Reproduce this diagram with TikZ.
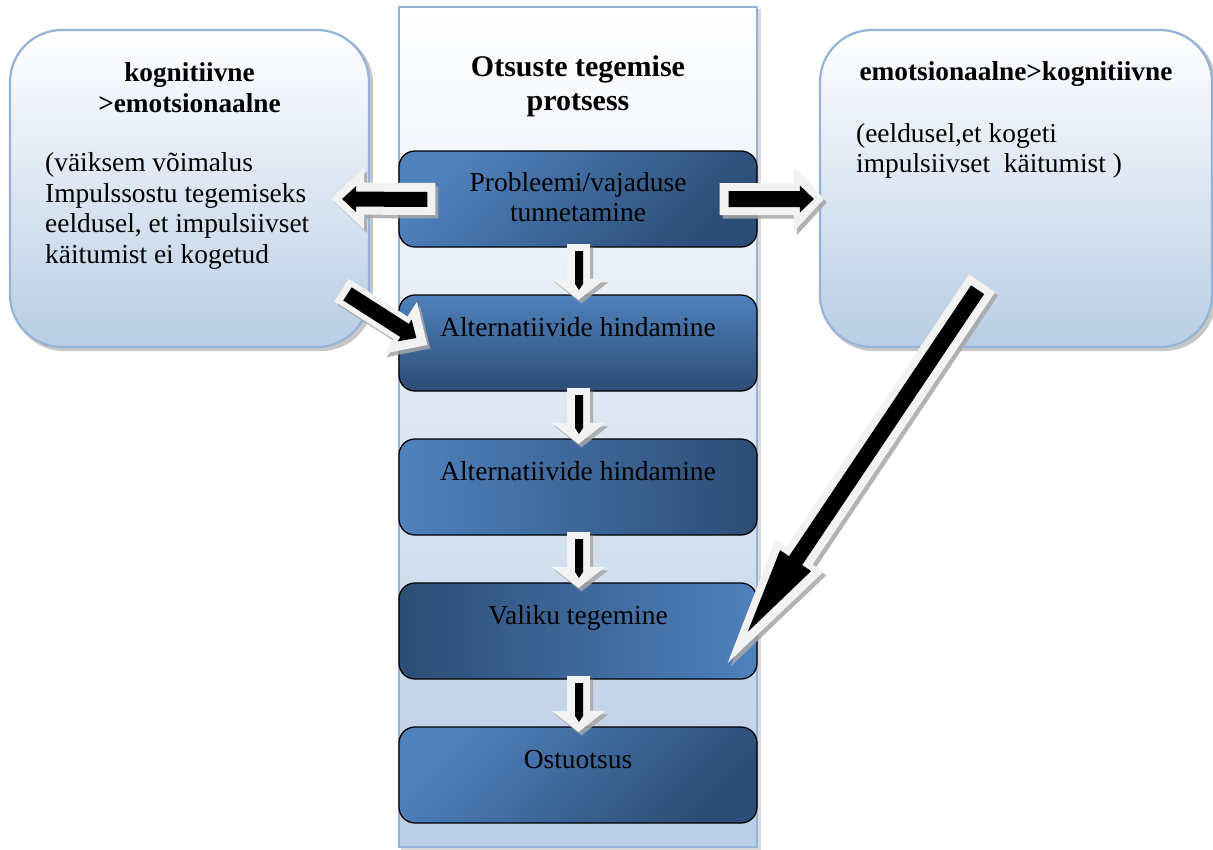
\documentclass[tikz,border=0pt]{standalone}
\usepackage{fontspec}
\setmainfont{Liberation Serif}
\usetikzlibrary{calc,backgrounds}

\definecolor{laneedge}{HTML}{95B3D7}
\definecolor{paleblue}{HTML}{B9CDE5}
\definecolor{midblue}{HTML}{4F81BD}
\definecolor{deepblue}{HTML}{2C4D75}
\definecolor{arrowrim}{HTML}{F2F2F2}
\definecolor{arrowshade}{HTML}{A6A6A6}

\tikzset{
  lane/.style={draw=laneedge, line width=2pt, top color=white, bottom color=paleblue,
    minimum width=358pt, minimum height=840pt, inner sep=0pt},
  sidebox/.style={draw=laneedge, line width=2.2pt, rounded corners=52pt,
    top color=white, bottom color=paleblue, minimum height=317pt, inner sep=0pt},
  stepbox/.style={draw=black, line width=1.3pt, rounded corners=16pt,
    minimum width=358pt, minimum height=96pt, inner sep=0pt},
  boxtext/.style={font=\fontsize{27.5}{30}\selectfont, align=center, inner sep=0pt},
  headtext/.style={font=\bfseries\fontsize{27.3}{31}\selectfont, align=center, inner sep=0pt},
  bodytext/.style={font=\fontsize{27.4}{30.5}\selectfont, align=left, inner sep=0pt},
  softshadow/.style={fill=black, opacity=0.22},
  rimfill/.style={fill=arrowrim},
  corefill/.style={fill=black},
  shadefill/.style={fill=arrowshade, opacity=0.85},
}

% arrow polygon: start, tip, shaft half-width, head half-width, head length, fill style
\newcommand\arrowpoly[6]{%
  \coordinate (ba-s) at (#1);
  \coordinate (ba-t) at (#2);
  \coordinate (ba-c) at ($(ba-t)!#5!(ba-s)$);
  \fill[#6] ($(ba-s)!#3!90:(ba-t)$) -- ($(ba-c)!#3!-90:(ba-s)$) -- ($(ba-c)!#4!-90:(ba-s)$)
    -- (ba-t) -- ($(ba-c)!#4!90:(ba-s)$) -- ($(ba-c)!#3!90:(ba-s)$)
    -- ($(ba-s)!#3!-90:(ba-t)$) -- cycle;
}
% light rimmed block arrow with drop shadow and black core
% #1 outer start, #2 outer tip, #3 outer shaft, #4 outer head, #5 outer head length,
% #6 core start, #7 core tip, #8 core shaft, #9 core head (core head length in \corelen)
\newcommand\corelen{14pt}
\newcommand\rimarrow[9]{%
  \begin{scope}[transform canvas={shift={(3pt,-3.5pt)}}]
    \arrowpoly{#1}{#2}{#3}{#4}{#5}{shadefill}
  \end{scope}
  \arrowpoly{#1}{#2}{#3}{#4}{#5}{rimfill}
  \arrowpoly{#6}{#7}{#8}{#9}{\corelen}{corefill}
}

\begin{document}
\begin{tikzpicture}[x=1pt,y=-1pt]
\useasboundingbox (0,0) rectangle (1213,849);

% central process lane
\node[lane] (lane) at (578,427) {};
\node[headtext, font=\bfseries\fontsize{30}{34}\selectfont, anchor=north] (title) at (578,55.5)
  {Otsuste tegemise\\protsess};

% side boxes
\node[sidebox, minimum width=359pt] (lk) at (189.5,188.5) {};
\node[sidebox, minimum width=392pt] (rk) at (1016,188.5) {};

\begin{scope}[on background layer]
  \fill[softshadow, opacity=0.15] ($(lane.south west)+(3,3)$) rectangle ($(lane.north east)+(3,3)$);
  \fill[softshadow, rounded corners=52pt] ($(lk.south west)+(3,3)$) rectangle ($(lk.north east)+(3,3)$);
  \fill[softshadow, rounded corners=52pt] ($(rk.south west)+(3,3)$) rectangle ($(rk.north east)+(3,3)$);
\end{scope}

\node[headtext, anchor=north] (lkt) at (189.5,62.6) {kognitiivne\\>emotsionaalne};
\node[bodytext, anchor=north west] (lkb) at (45,152.4)
  {(väiksem võimalus\\Impulssostu tegemiseks\\eeldusel, et impulsiivset\\käitumist ei kogetud};

\node[headtext, anchor=base] (rkt) at (1016,80) {emotsionaalne>kognitiivne};
\node[bodytext, anchor=north west, font=\fontsize{27.4}{30}\selectfont] (rkb) at (856,123.4)
  {(eeldusel,et kogeti\\impulsiivset~~käitumist )};

% process steps
\node[stepbox, top color=midblue, bottom color=deepblue, shading angle=45] (b1) at (578,199) {};
\node[stepbox, top color=midblue, bottom color=deepblue] (b2) at (578,343) {};
\node[stepbox, left color=midblue, right color=deepblue] (b3) at (578,487) {};
\node[stepbox, left color=deepblue, right color=midblue] (b4) at (578,631) {};
\node[stepbox, top color=midblue, bottom color=deepblue, shading angle=45] (b5) at (578,775) {};

\node[boxtext, anchor=north] (t1) at (578,172.4) {Probleemi/vajaduse\\tunnetamine};
\node[boxtext, anchor=base] (t2) at (578,336) {Alternatiivide hindamine};
\node[boxtext, anchor=base] (t3) at (578,480) {Alternatiivide hindamine};
\node[boxtext, anchor=base] (t4) at (578,624) {Valiku tegemine};
\node[boxtext, anchor=base] (t5) at (578,768) {Ostuotsus};

% arrows between the steps
\renewcommand\corelen{6pt}
\foreach \a/\b in {b1/b2, b2/b3, b3/b4, b4/b5}{
  \rimarrow{$(\a.south)+(0.5,-3.6)$}{$(\b.north)+(0.5,5.6)$}{11.5pt}{26.5pt}{21pt}
           {$(\a.south)+(1,3.4)$}{$(\b.north)+(1,-4.4)$}{4pt}{4pt}
}

% arrows to and from the side boxes
\renewcommand\corelen{14pt}
\rimarrow{$(b1.west)+(37,0)$}{$(lk.east |- b1.west)+(-39,-0.5)$}{16pt}{31pt}{33pt}
         {$(b1.west)+(29,0.5)$}{$(lk.east |- b1.west)+(-28,0)$}{7.5pt}{13pt}
\rimarrow{$(b1.east)+(-38,0)$}{$(rk.west |- b1.east)+(5,0)$}{16pt}{32.5pt}{30pt}
         {$(b1.east)+(-29,0)$}{$(rk.west |- b1.east)+(-5,0)$}{8pt}{13.5pt}
\rimarrow{$(lk.south east)+(-28.5,-58)$}{$(b2.west)+(29,2)$}{13.3pt}{30.7pt}{32pt}
         {$(lk.south east)+(-22.6,-54.2)$}{$(b2.west)+(18,-5)$}{7.8pt}{13pt}
\renewcommand\corelen{86pt}
\rimarrow{$(rk.south)+(-34,-65)$}{$(b4.east)+(-30,32)$}{15.8pt}{28.8pt}{129pt}
         {$(rk.south)+(-38.4,-58.4)$}{$(b4.east)+(-10,1)$}{7.9pt}{18.7pt}

\end{tikzpicture}
\end{document}
